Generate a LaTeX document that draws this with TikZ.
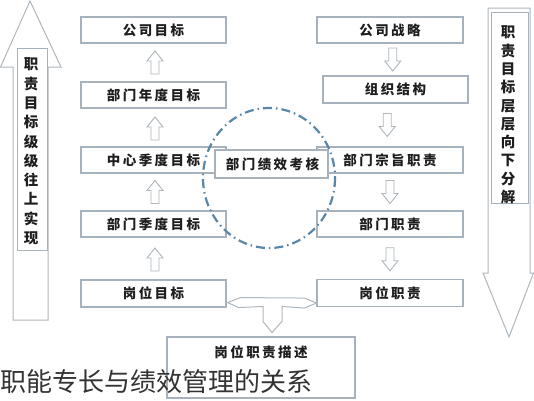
\documentclass[tikz,border=0pt]{standalone}
\usepackage{fontspec}
\setmainfont{Noto Sans CJK SC}
\newfontfamily\cjkbox[LetterSpace=18]{Noto Sans CJK SC}
\usetikzlibrary{calc}
\definecolor{boxline}{HTML}{A7B2BC}
\definecolor{arrline}{HTML}{AEB7BE}
\definecolor{circ}{HTML}{5A86A8}
\definecolor{txt}{HTML}{1E1E1E}
\definecolor{captxt}{HTML}{333333}
\begin{document}
\begin{tikzpicture}[x=1pt,y=-1pt,
  box/.style={draw=boxline, line width=1.1pt, fill=white, minimum width=145, minimum height=26, inner sep=0pt, font=\cjkbox\bfseries\fontsize{13.5}{16}\selectfont, text=txt},
  vbox/.style={draw=boxline, line width=1pt, fill=white, inner sep=0pt},
  vtext/.style={align=center, inner sep=0pt, text=txt},
  bigarrow/.style={draw=arrline, line width=1pt, fill=white, line join=miter},
  tarrow/.style={draw=arrline, line width=1pt, fill=white, line join=miter},
  dashcirc/.style={draw=circ, line width=2.2pt, dash pattern=on 9pt off 4pt on 1.5pt off 4pt},
  uparr/.pic={\draw[draw=arrline, line width=0.9pt, fill=white, line join=miter] (0,-11.5) -- (8,-1.5) -- (4,-1.5) -- (4,11.5) -- (-4,11.5) -- (-4,-1.5) -- (-8,-1.5) -- cycle;},
  dnarr/.pic={\draw[draw=arrline, line width=0.9pt, fill=white, line join=miter] (0,11.5) -- (8,1.5) -- (4,1.5) -- (4,-11.5) -- (-4,-11.5) -- (-4,1.5) -- (-8,1.5) -- cycle;}
]
\useasboundingbox (0,0) rectangle (534,400);
\fill[white] (0,0) rectangle (534,400);

% big side arrows
\draw[bigarrow] (30,1) -- (61,67) -- (48,67) -- (48,320) -- (13,320) -- (13,67) -- (0.5,67) -- cycle;
\node[vbox, minimum width=30, minimum height=202] (lbox) at (32,149) {};
\node[vtext, font=\bfseries\fontsize{14.5}{19.3}\selectfont] (ltext) at (31,151.5) {职\\责\\目\\标\\级\\级\\往\\上\\实\\现};

\draw[bigarrow] (488,8) -- (530,8) -- (530,273) -- (533.5,273) -- (509,337) -- (483,273) -- (488,273) -- cycle;
\node[vbox, minimum width=37, minimum height=191] (rbox) at (509.5,107.5) {};
\node[vtext, font=\bfseries\fontsize{14.5}{18.3}\selectfont] (rtext) at (508,115) {职\\责\\目\\标\\层\\层\\向\\下\\分\\解};

% left column
\node[box] (g1) at (153.5,30) {公司目标};
\node[box] (g2) at (153.5,95) {部门年度目标};
\node[box] (g3) at (153.5,160) {中心季度目标};
\node[box] (g4) at (153.5,224) {部门季度目标};
\node[box, minimum height=27] (g5) at (153.5,293.5) {岗位目标};

% right column
\node[box, minimum width=146] (r1) at (390,30) {公司战略};
\node[box, minimum height=27] (r2) at (395.5,89.5) {组织结构};
\node[box, minimum width=146] (r3) at (390,160) {部门宗旨职责};
\node[box, minimum width=146] (r4) at (390,224) {部门职责};
\node[box, minimum width=146, minimum height=27] (r5) at (390,293) {岗位职责};

% small arrows
\pic at ($(g2.north)!0.5!(g1.south)+(1.5,0)$) {uparr};
\pic at ($(g3.north)!0.5!(g2.south)+(1.5,1)$) {uparr};
\pic at ($(g4.north)!0.5!(g3.south)+(1.5,0)$) {uparr};
\pic at ($(g5.north)!0.5!(g4.south)+(1.5,1)$) {uparr};
\pic at ($(r1.south)!0.5!(r2.north)$) {dnarr};
\pic at ($(r2.south)!0.5!(r3.north)+(-5.5,0)$) {dnarr};
\pic at ($(r3.south)!0.5!(r4.north)$) {dnarr};
\pic at ($(r4.south)!0.5!(r5.north)+(0,1)$) {dnarr};

% description box
\node[draw=boxline, line width=1.1pt, fill=white, minimum width=188, minimum height=61, inner sep=0pt] (desc) at (261,367.5) {};
\node[inner sep=0pt, font=\cjkbox\bfseries\fontsize{13.5}{16}\selectfont, text=txt] (desct) at (261,352) {岗位职责描述};

% T-shaped arrow
\coordinate (tl) at ($(g5.south east)+(1,-5)$);
\coordinate (tr) at ($(r5.south west)+(0,-4)$);
\coordinate (tt) at ($(desc.north)+(11,-4)$);
\draw[tarrow] (tl) -- ++(13,-5) -- ($(tr)+(-12,-5)$) -- (tr) -- ($(tr)+(-12,5)$)
  -- ($(tt)+(10,-26)$) -- ($(tt)+(10,-11)$) -- (tt) -- ($(tt)+(-9,-11)$)
  -- ($(tt)+(-9,-26)$) -- ($(tl)+(11,5)$) -- cycle;

% centre box
\node[box, minimum width=113, minimum height=28] (c) at (271.5,164) {\hspace*{2pt}部门绩效考核};

% dash-dot circle
\draw[dashcirc] (269,178) ellipse [x radius=66, y radius=70];

% caption
\node[anchor=west, inner sep=0pt, font=\fontsize{26}{30}\selectfont, text=captxt] (cap) at (0,381.5) {职能专长与绩效管理的关系};
\end{tikzpicture}
\end{document}
